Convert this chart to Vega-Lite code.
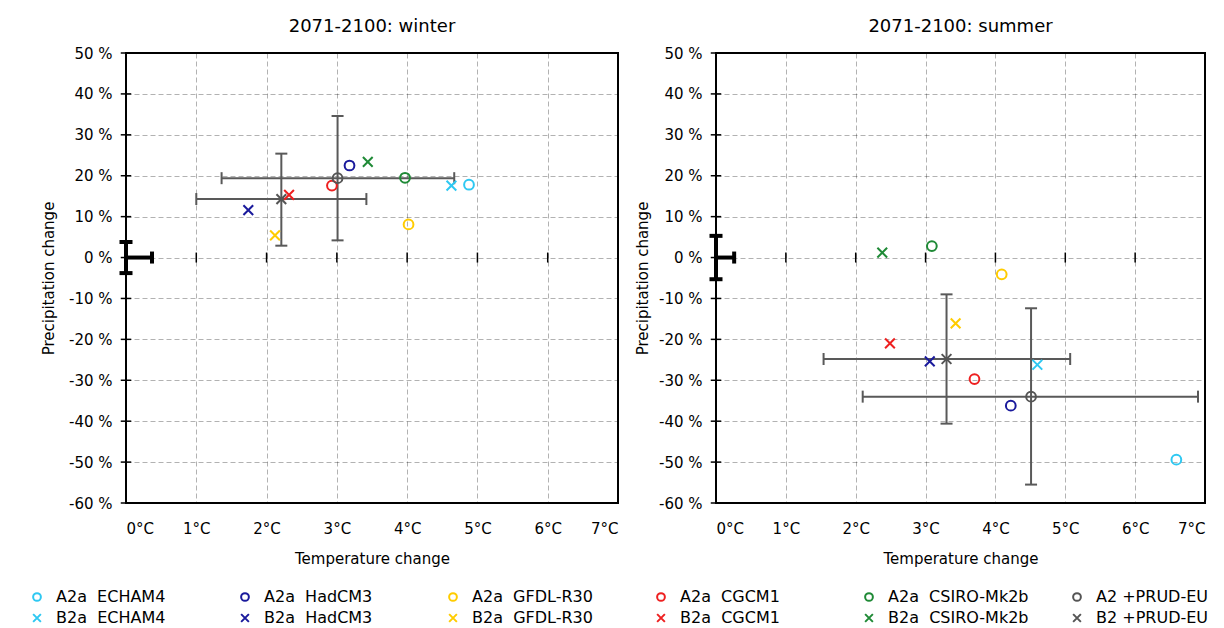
{
  "$schema": "https://vega.github.io/schema/vega-lite/v6.json",
  "padding": {"left": 29, "top": 17, "right": 5, "bottom": 5},
  "background": "white",
  "bounds": "flush",
  "spacing": 98,
  "datasets": {
    "pts": [
      {"season": "winter", "series": "A2a\u00a0\u00a0ECHAM4", "x": 4.88, "y": 17.8},
      {"season": "winter", "series": "B2a\u00a0\u00a0ECHAM4", "x": 4.63, "y": 17.6},
      {"season": "winter", "series": "A2a\u00a0\u00a0HadCM3", "x": 3.18, "y": 22.5},
      {"season": "winter", "series": "B2a\u00a0\u00a0HadCM3", "x": 1.74, "y": 11.6},
      {"season": "winter", "series": "A2a\u00a0\u00a0GFDL-R30", "x": 4.02, "y": 8.1},
      {"season": "winter", "series": "B2a\u00a0\u00a0GFDL-R30", "x": 2.12, "y": 5.4},
      {"season": "winter", "series": "A2a\u00a0\u00a0CGCM1", "x": 2.93, "y": 17.6},
      {"season": "winter", "series": "B2a\u00a0\u00a0CGCM1", "x": 2.32, "y": 15.3},
      {"season": "winter", "series": "A2a\u00a0\u00a0CSIRO-Mk2b", "x": 3.97, "y": 19.5},
      {"season": "winter", "series": "B2a\u00a0\u00a0CSIRO-Mk2b", "x": 3.44, "y": 23.4},
      {"season": "winter", "series": "A2 +PRUD-EU", "x": 3.01, "y": 19.4},
      {"season": "winter", "series": "B2 +PRUD-EU", "x": 2.21, "y": 14.3},
      {"season": "summer", "series": "A2a\u00a0\u00a0ECHAM4", "x": 6.59, "y": -49.4},
      {"season": "summer", "series": "B2a\u00a0\u00a0ECHAM4", "x": 4.6, "y": -26.2},
      {"season": "summer", "series": "A2a\u00a0\u00a0HadCM3", "x": 4.22, "y": -36.2},
      {"season": "summer", "series": "B2a\u00a0\u00a0HadCM3", "x": 3.06, "y": -25.4},
      {"season": "summer", "series": "A2a\u00a0\u00a0GFDL-R30", "x": 4.09, "y": -4.1},
      {"season": "summer", "series": "B2a\u00a0\u00a0GFDL-R30", "x": 3.43, "y": -16.1},
      {"season": "summer", "series": "A2a\u00a0\u00a0CGCM1", "x": 3.7, "y": -29.7},
      {"season": "summer", "series": "B2a\u00a0\u00a0CGCM1", "x": 2.49, "y": -21.0},
      {"season": "summer", "series": "A2a\u00a0\u00a0CSIRO-Mk2b", "x": 3.09, "y": 2.8},
      {"season": "summer", "series": "B2a\u00a0\u00a0CSIRO-Mk2b", "x": 2.38, "y": 1.2},
      {"season": "summer", "series": "A2 +PRUD-EU", "x": 4.51, "y": -34.0},
      {"season": "summer", "series": "B2 +PRUD-EU", "x": 3.3, "y": -24.8}
    ],
    "err": [
      {"season": "winter", "x": 3.01, "y": 19.4, "xlo": 1.36, "xhi": 4.67, "ylo": 4.2, "yhi": 34.6},
      {"season": "winter", "x": 2.21, "y": 14.3, "xlo": 1.0, "xhi": 3.42, "ylo": 2.9, "yhi": 25.4},
      {"season": "summer", "x": 4.51, "y": -34.0, "xlo": 2.1, "xhi": 6.9, "ylo": -55.5, "yhi": -12.4},
      {"season": "summer", "x": 3.3, "y": -24.8, "xlo": 1.54, "xhi": 5.07, "ylo": -40.6, "yhi": -9.0}
    ],
    "nv": [
      {"season": "winter", "x": 0, "y": 0, "xhi": 0.37, "ylo": -3.8, "yhi": 3.8},
      {"season": "summer", "x": 0, "y": 0, "xhi": 0.26, "ylo": -5.3, "yhi": 5.3}
    ],
    "xt": [{"v": 1}, {"v": 2}, {"v": 3}, {"v": 4}, {"v": 5}, {"v": 6}, {"v": 7}],
    "yt": [{"v": -60}, {"v": -50}, {"v": -40}, {"v": -30}, {"v": -20}, {"v": -10}, {"v": 0}, {"v": 10}, {"v": 20}, {"v": 30}, {"v": 40}, {"v": 50}]
  },
  "hconcat": [
    {
      "width": 492, "height": 450,
      "title": {"text": "2071-2100: winter"},
      "layer": [
        {
          "data": {"name": "nv"},
          "transform": [{"filter": "datum.season === 'winter'"}],
          "mark": {"type": "rule", "color": "black", "strokeWidth": 2},
          "encoding": {
            "x": {"field": "x", "type": "quantitative", "scale": {"domain": [0, 7], "nice": false, "zero": false},
                  "axis": {"title": "Temperature change", "values": [0, 1, 2, 3, 4, 5, 6, 7], "labelExpr": "datum.value + '°C'", "grid": true, "labelPadding": 18, "titlePadding": 15}},
            "y": {"field": "y", "type": "quantitative", "scale": {"domain": [-60, 50], "nice": false, "zero": false},
                  "axis": {"title": "Precipitation change", "values": [-60, -50, -40, -30, -20, -10, 0, 10, 20, 30, 40, 50], "labelExpr": "datum.value + ' %'", "grid": true, "labelPadding": 14, "titlePadding": 12}}
          }
        },
        {
          "data": {"name": "nv"},
          "transform": [{"filter": "datum.season === 'winter'"}],
          "mark": {"type": "rule", "color": "black", "strokeWidth": 2, "x": 0, "x2": {"expr": "width"}},
          "encoding": {"y": {"field": "y", "type": "quantitative"}}
        },
        {
          "data": {"name": "xt"},
          "mark": {"type": "point", "shape": "M0,-1L0,1", "size": 100, "filled": false, "stroke": "black", "strokeWidth": 1.5, "opacity": 1},
          "encoding": {"x": {"field": "v", "type": "quantitative"}, "y": {"datum": 0, "type": "quantitative"}}
        },
        {
          "data": {"name": "yt"},
          "mark": {"type": "point", "shape": "M-1,0L1,0", "size": 110, "filled": false, "stroke": "black", "strokeWidth": 1.5, "opacity": 1},
          "encoding": {"y": {"field": "v", "type": "quantitative"}, "x": {"datum": 0, "type": "quantitative"}}
        },
        {
          "data": {"name": "err"},
          "transform": [{"filter": "datum.season === 'winter'"}],
          "mark": {"type": "rule", "color": "#595959", "strokeWidth": 2},
          "encoding": {"x": {"field": "xlo", "type": "quantitative"}, "x2": {"field": "xhi"}, "y": {"field": "y", "type": "quantitative"}}
        },
        {
          "data": {"name": "err"},
          "transform": [{"filter": "datum.season === 'winter'"}],
          "mark": {"type": "rule", "color": "#595959", "strokeWidth": 2},
          "encoding": {"x": {"field": "x", "type": "quantitative"}, "y": {"field": "ylo", "type": "quantitative"}, "y2": {"field": "yhi"}}
        },
        {
          "data": {"name": "err"},
          "transform": [{"filter": "datum.season === 'winter'"}],
          "mark": {"type": "point", "shape": "M0,-1L0,1", "size": 144, "filled": false, "stroke": "#595959", "strokeWidth": 2, "opacity": 1},
          "encoding": {"x": {"field": "xlo", "type": "quantitative"}, "y": {"field": "y", "type": "quantitative"}}
        },
        {
          "data": {"name": "err"},
          "transform": [{"filter": "datum.season === 'winter'"}],
          "mark": {"type": "point", "shape": "M0,-1L0,1", "size": 144, "filled": false, "stroke": "#595959", "strokeWidth": 2, "opacity": 1},
          "encoding": {"x": {"field": "xhi", "type": "quantitative"}, "y": {"field": "y", "type": "quantitative"}}
        },
        {
          "data": {"name": "err"},
          "transform": [{"filter": "datum.season === 'winter'"}],
          "mark": {"type": "point", "shape": "M-1,0L1,0", "size": 144, "filled": false, "stroke": "#595959", "strokeWidth": 2, "opacity": 1},
          "encoding": {"x": {"field": "x", "type": "quantitative"}, "y": {"field": "ylo", "type": "quantitative"}}
        },
        {
          "data": {"name": "err"},
          "transform": [{"filter": "datum.season === 'winter'"}],
          "mark": {"type": "point", "shape": "M-1,0L1,0", "size": 144, "filled": false, "stroke": "#595959", "strokeWidth": 2, "opacity": 1},
          "encoding": {"x": {"field": "x", "type": "quantitative"}, "y": {"field": "yhi", "type": "quantitative"}}
        },
        {
          "data": {"name": "nv"},
          "transform": [{"filter": "datum.season === 'winter'"}],
          "mark": {"type": "rule", "color": "black", "strokeWidth": 4},
          "encoding": {"x": {"field": "x", "type": "quantitative"}, "y": {"field": "ylo", "type": "quantitative"}, "y2": {"field": "yhi"}}
        },
        {
          "data": {"name": "nv"},
          "transform": [{"filter": "datum.season === 'winter'"}],
          "mark": {"type": "rule", "color": "black", "strokeWidth": 4},
          "encoding": {"x": {"field": "x", "type": "quantitative"}, "x2": {"field": "xhi"}, "y": {"field": "y", "type": "quantitative"}}
        },
        {
          "data": {"name": "nv"},
          "transform": [{"filter": "datum.season === 'winter'"}],
          "mark": {"type": "point", "shape": "M-1,0L1,0", "size": 169, "filled": false, "stroke": "black", "strokeWidth": 4, "opacity": 1},
          "encoding": {"x": {"field": "x", "type": "quantitative"}, "y": {"field": "ylo", "type": "quantitative"}}
        },
        {
          "data": {"name": "nv"},
          "transform": [{"filter": "datum.season === 'winter'"}],
          "mark": {"type": "point", "shape": "M-1,0L1,0", "size": 169, "filled": false, "stroke": "black", "strokeWidth": 4, "opacity": 1},
          "encoding": {"x": {"field": "x", "type": "quantitative"}, "y": {"field": "yhi", "type": "quantitative"}}
        },
        {
          "data": {"name": "nv"},
          "transform": [{"filter": "datum.season === 'winter'"}],
          "mark": {"type": "point", "shape": "M0,-1L0,1", "size": 144, "filled": false, "stroke": "black", "strokeWidth": 4, "opacity": 1},
          "encoding": {"x": {"field": "xhi", "type": "quantitative"}, "y": {"field": "y", "type": "quantitative"}}
        },
        {
          "data": {"name": "pts"},
          "transform": [{"filter": "datum.season === 'winter'"}],
          "mark": {"type": "point", "filled": false, "strokeWidth": 2, "size": 95, "opacity": 1},
          "encoding": {
            "x": {"field": "x", "type": "quantitative"},
            "y": {"field": "y", "type": "quantitative"},
            "color": {"field": "series", "type": "nominal",
              "scale": {"domain": ["A2a\u00a0\u00a0ECHAM4", "A2a\u00a0\u00a0HadCM3", "A2a\u00a0\u00a0GFDL-R30", "A2a\u00a0\u00a0CGCM1", "A2a\u00a0\u00a0CSIRO-Mk2b", "A2 +PRUD-EU", "B2a\u00a0\u00a0ECHAM4", "B2a\u00a0\u00a0HadCM3", "B2a\u00a0\u00a0GFDL-R30", "B2a\u00a0\u00a0CGCM1", "B2a\u00a0\u00a0CSIRO-Mk2b", "B2 +PRUD-EU"],
                        "range": ["#2ec8f2", "#1a1a9c", "#ffcc00", "#ee2020", "#1f8a36", "#555555", "#2ec8f2", "#1a1a9c", "#ffcc00", "#ee2020", "#1f8a36", "#555555"]},
              "legend": {"title": null}},
            "shape": {"field": "series", "type": "nominal",
              "scale": {"domain": ["A2a\u00a0\u00a0ECHAM4", "A2a\u00a0\u00a0HadCM3", "A2a\u00a0\u00a0GFDL-R30", "A2a\u00a0\u00a0CGCM1", "A2a\u00a0\u00a0CSIRO-Mk2b", "A2 +PRUD-EU", "B2a\u00a0\u00a0ECHAM4", "B2a\u00a0\u00a0HadCM3", "B2a\u00a0\u00a0GFDL-R30", "B2a\u00a0\u00a0CGCM1", "B2a\u00a0\u00a0CSIRO-Mk2b", "B2 +PRUD-EU"],
                        "range": ["circle", "circle", "circle", "circle", "circle", "circle", "M-1,-1L1,1M-1,1L1,-1", "M-1,-1L1,1M-1,1L1,-1", "M-1,-1L1,1M-1,1L1,-1", "M-1,-1L1,1M-1,1L1,-1", "M-1,-1L1,1M-1,1L1,-1", "M-1,-1L1,1M-1,1L1,-1"]},
              "legend": {"title": null}}
          }
        }
      ]
    },
    {
      "width": 489, "height": 450,
      "title": {"text": "2071-2100: summer"},
      "layer": [
        {
          "data": {"name": "nv"},
          "transform": [{"filter": "datum.season === 'summer'"}],
          "mark": {"type": "rule", "color": "black", "strokeWidth": 2},
          "encoding": {
            "x": {"field": "x", "type": "quantitative", "scale": {"domain": [0, 7], "nice": false, "zero": false},
                  "axis": {"title": "Temperature change", "values": [0, 1, 2, 3, 4, 5, 6, 7], "labelExpr": "datum.value + '°C'", "grid": true, "labelPadding": 18, "titlePadding": 15}},
            "y": {"field": "y", "type": "quantitative", "scale": {"domain": [-60, 50], "nice": false, "zero": false},
                  "axis": {"title": "Precipitation change", "values": [-60, -50, -40, -30, -20, -10, 0, 10, 20, 30, 40, 50], "labelExpr": "datum.value + ' %'", "grid": true, "labelPadding": 14, "titlePadding": 8}}
          }
        },
        {
          "data": {"name": "nv"},
          "transform": [{"filter": "datum.season === 'summer'"}],
          "mark": {"type": "rule", "color": "black", "strokeWidth": 2, "x": 0, "x2": {"expr": "width"}},
          "encoding": {"y": {"field": "y", "type": "quantitative"}}
        },
        {
          "data": {"name": "xt"},
          "mark": {"type": "point", "shape": "M0,-1L0,1", "size": 100, "filled": false, "stroke": "black", "strokeWidth": 1.5, "opacity": 1},
          "encoding": {"x": {"field": "v", "type": "quantitative"}, "y": {"datum": 0, "type": "quantitative"}}
        },
        {
          "data": {"name": "yt"},
          "mark": {"type": "point", "shape": "M-1,0L1,0", "size": 110, "filled": false, "stroke": "black", "strokeWidth": 1.5, "opacity": 1},
          "encoding": {"y": {"field": "v", "type": "quantitative"}, "x": {"datum": 0, "type": "quantitative"}}
        },
        {
          "data": {"name": "err"},
          "transform": [{"filter": "datum.season === 'summer'"}],
          "mark": {"type": "rule", "color": "#595959", "strokeWidth": 2},
          "encoding": {"x": {"field": "xlo", "type": "quantitative"}, "x2": {"field": "xhi"}, "y": {"field": "y", "type": "quantitative"}}
        },
        {
          "data": {"name": "err"},
          "transform": [{"filter": "datum.season === 'summer'"}],
          "mark": {"type": "rule", "color": "#595959", "strokeWidth": 2},
          "encoding": {"x": {"field": "x", "type": "quantitative"}, "y": {"field": "ylo", "type": "quantitative"}, "y2": {"field": "yhi"}}
        },
        {
          "data": {"name": "err"},
          "transform": [{"filter": "datum.season === 'summer'"}],
          "mark": {"type": "point", "shape": "M0,-1L0,1", "size": 144, "filled": false, "stroke": "#595959", "strokeWidth": 2, "opacity": 1},
          "encoding": {"x": {"field": "xlo", "type": "quantitative"}, "y": {"field": "y", "type": "quantitative"}}
        },
        {
          "data": {"name": "err"},
          "transform": [{"filter": "datum.season === 'summer'"}],
          "mark": {"type": "point", "shape": "M0,-1L0,1", "size": 144, "filled": false, "stroke": "#595959", "strokeWidth": 2, "opacity": 1},
          "encoding": {"x": {"field": "xhi", "type": "quantitative"}, "y": {"field": "y", "type": "quantitative"}}
        },
        {
          "data": {"name": "err"},
          "transform": [{"filter": "datum.season === 'summer'"}],
          "mark": {"type": "point", "shape": "M-1,0L1,0", "size": 144, "filled": false, "stroke": "#595959", "strokeWidth": 2, "opacity": 1},
          "encoding": {"x": {"field": "x", "type": "quantitative"}, "y": {"field": "ylo", "type": "quantitative"}}
        },
        {
          "data": {"name": "err"},
          "transform": [{"filter": "datum.season === 'summer'"}],
          "mark": {"type": "point", "shape": "M-1,0L1,0", "size": 144, "filled": false, "stroke": "#595959", "strokeWidth": 2, "opacity": 1},
          "encoding": {"x": {"field": "x", "type": "quantitative"}, "y": {"field": "yhi", "type": "quantitative"}}
        },
        {
          "data": {"name": "nv"},
          "transform": [{"filter": "datum.season === 'summer'"}],
          "mark": {"type": "rule", "color": "black", "strokeWidth": 4},
          "encoding": {"x": {"field": "x", "type": "quantitative"}, "y": {"field": "ylo", "type": "quantitative"}, "y2": {"field": "yhi"}}
        },
        {
          "data": {"name": "nv"},
          "transform": [{"filter": "datum.season === 'summer'"}],
          "mark": {"type": "rule", "color": "black", "strokeWidth": 4},
          "encoding": {"x": {"field": "x", "type": "quantitative"}, "x2": {"field": "xhi"}, "y": {"field": "y", "type": "quantitative"}}
        },
        {
          "data": {"name": "nv"},
          "transform": [{"filter": "datum.season === 'summer'"}],
          "mark": {"type": "point", "shape": "M-1,0L1,0", "size": 169, "filled": false, "stroke": "black", "strokeWidth": 4, "opacity": 1},
          "encoding": {"x": {"field": "x", "type": "quantitative"}, "y": {"field": "ylo", "type": "quantitative"}}
        },
        {
          "data": {"name": "nv"},
          "transform": [{"filter": "datum.season === 'summer'"}],
          "mark": {"type": "point", "shape": "M-1,0L1,0", "size": 169, "filled": false, "stroke": "black", "strokeWidth": 4, "opacity": 1},
          "encoding": {"x": {"field": "x", "type": "quantitative"}, "y": {"field": "yhi", "type": "quantitative"}}
        },
        {
          "data": {"name": "nv"},
          "transform": [{"filter": "datum.season === 'summer'"}],
          "mark": {"type": "point", "shape": "M0,-1L0,1", "size": 144, "filled": false, "stroke": "black", "strokeWidth": 4, "opacity": 1},
          "encoding": {"x": {"field": "xhi", "type": "quantitative"}, "y": {"field": "y", "type": "quantitative"}}
        },
        {
          "data": {"name": "pts"},
          "transform": [{"filter": "datum.season === 'summer'"}],
          "mark": {"type": "point", "filled": false, "strokeWidth": 2, "size": 95, "opacity": 1},
          "encoding": {
            "x": {"field": "x", "type": "quantitative"},
            "y": {"field": "y", "type": "quantitative"},
            "color": {"field": "series", "type": "nominal",
              "scale": {"domain": ["A2a\u00a0\u00a0ECHAM4", "A2a\u00a0\u00a0HadCM3", "A2a\u00a0\u00a0GFDL-R30", "A2a\u00a0\u00a0CGCM1", "A2a\u00a0\u00a0CSIRO-Mk2b", "A2 +PRUD-EU", "B2a\u00a0\u00a0ECHAM4", "B2a\u00a0\u00a0HadCM3", "B2a\u00a0\u00a0GFDL-R30", "B2a\u00a0\u00a0CGCM1", "B2a\u00a0\u00a0CSIRO-Mk2b", "B2 +PRUD-EU"],
                        "range": ["#2ec8f2", "#1a1a9c", "#ffcc00", "#ee2020", "#1f8a36", "#555555", "#2ec8f2", "#1a1a9c", "#ffcc00", "#ee2020", "#1f8a36", "#555555"]},
              "legend": {"title": null}},
            "shape": {"field": "series", "type": "nominal",
              "scale": {"domain": ["A2a\u00a0\u00a0ECHAM4", "A2a\u00a0\u00a0HadCM3", "A2a\u00a0\u00a0GFDL-R30", "A2a\u00a0\u00a0CGCM1", "A2a\u00a0\u00a0CSIRO-Mk2b", "A2 +PRUD-EU", "B2a\u00a0\u00a0ECHAM4", "B2a\u00a0\u00a0HadCM3", "B2a\u00a0\u00a0GFDL-R30", "B2a\u00a0\u00a0CGCM1", "B2a\u00a0\u00a0CSIRO-Mk2b", "B2 +PRUD-EU"],
                        "range": ["circle", "circle", "circle", "circle", "circle", "circle", "M-1,-1L1,1M-1,1L1,-1", "M-1,-1L1,1M-1,1L1,-1", "M-1,-1L1,1M-1,1L1,-1", "M-1,-1L1,1M-1,1L1,-1", "M-1,-1L1,1M-1,1L1,-1", "M-1,-1L1,1M-1,1L1,-1"]},
              "legend": {"title": null}}
          }
        }
      ]
    }
  ],
  "resolve": {"scale": {"color": "shared", "shape": "shared"}, "legend": {"color": "shared", "shape": "shared"}},
  "config": {
    "font": "DejaVu Sans",
    "view": {"stroke": "black", "strokeWidth": 2},
    "axis": {"labelFontSize": 15, "titleFontSize": 15, "labelColor": "black", "titleColor": "black", "titleFontWeight": "normal", "gridColor": "black", "gridOpacity": 0.3, "gridDash": [5, 3], "gridWidth": 1, "domain": false, "ticks": false, "labelFont": "DejaVu Sans", "titleFont": "DejaVu Sans"},
    "title": {"fontSize": 18, "fontWeight": "normal", "color": "black", "offset": 10, "font": "DejaVu Sans"},
    "legend": {"orient": "none", "legendX": -97, "legendY": 536, "direction": "horizontal", "columns": 6, "columnPadding": 40, "rowPadding": 5, "gridAlign": "all", "labelFontSize": 16, "labelColor": "black", "labelFont": "DejaVu Sans", "symbolStrokeWidth": 2, "symbolSize": 60, "labelOffset": 11}
  }
}
